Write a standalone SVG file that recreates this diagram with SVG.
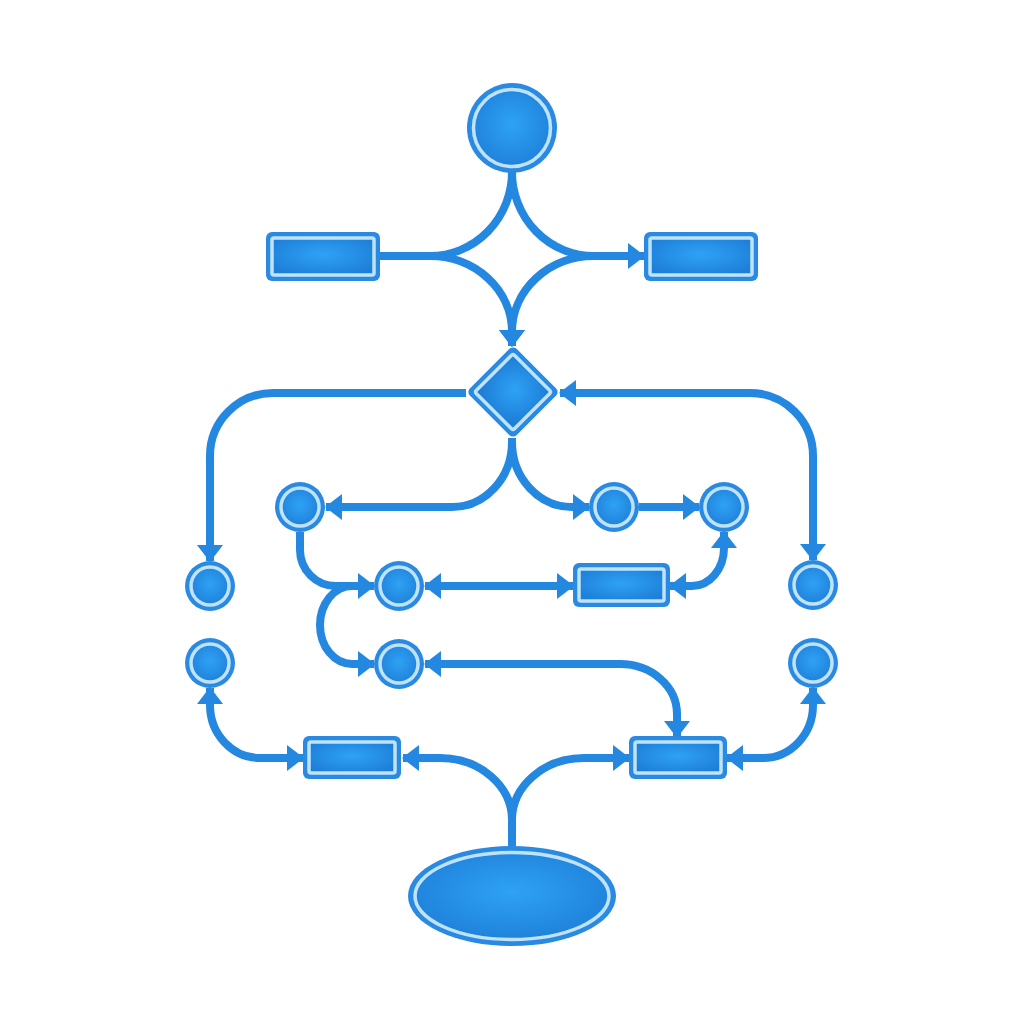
<svg xmlns="http://www.w3.org/2000/svg" width="1024" height="1024" viewBox="0 0 1024 1024">
<defs>
<radialGradient id="g" cx="50%" cy="45%" r="60%">
<stop offset="0" stop-color="#2ea2f5"/>
<stop offset="1" stop-color="#1e7fd8"/>
</radialGradient>
<marker id="ah" viewBox="0 0 17 26" refX="16" refY="13" markerWidth="17" markerHeight="26" markerUnits="userSpaceOnUse" orient="auto-start-reverse">
<path d="M0,0 L17,13 L0,26 z" fill="#2588e0"/>
</marker>
<style>
.o{fill:#2a8ae1}
.i{fill:url(#g);stroke:#bfe3fd;stroke-width:3.5}
.c{fill:none;stroke:#2588e0;stroke-width:8}
.e{marker-end:url(#ah)}
.s{marker-start:url(#ah)}
</style>
</defs>
<rect width="1024" height="1024" fill="#ffffff"/>
<g id="connectors">
<path class="c" d="M512,172 A82,84 0 0 1 430,256 L380,256"/>
<path class="c e" d="M512,172 A82,84 0 0 0 594,256 L644,256"/>
<path class="c e" d="M430,256 A82,76 0 0 1 512,332 L512,346"/>
<path class="c e" d="M594,256 A82,76 0 0 0 512,332 L512,346"/>
<path class="c e" d="M466,393 L273,393 A63,63 0 0 0 210,456 L210,561"/>
<path class="c s e" d="M560,393 L750,393 A63,63 0 0 1 813,456 L813,560"/>
<path class="c e" d="M512,438 L512,442 A60,65 0 0 1 452,507 L326,507"/>
<path class="c e" d="M512,438 L512,442 A60,65 0 0 0 572,507 L589,507"/>
<path class="c e" d="M639,507 L699,507"/>
<path class="c s e" d="M670,586 L692,586 A32,38 0 0 0 724,548 L724,532"/>
<path class="c s e" d="M425,586 L573,586"/>
<path class="c e" d="M300,532 L300,550 A36,36 0 0 0 336,586 L374,586"/>
<path class="c e" d="M352,586 A32,39 0 0 0 320,625 A32,39 0 0 0 352,664 L374,664"/>
<path class="c s e" d="M425,664 L620,664 A57,50 0 0 1 677,714 L677,737"/>
<path class="c e" d="M512,846 L512,820 A72,62 0 0 0 440,758 L403,758"/>
<path class="c e" d="M512,846 L512,820 A72,62 0 0 1 584,758 L629,758"/>
<path class="c s e" d="M210,688 L210,705 A50,53 0 0 0 260,758 L303,758"/>
<path class="c s e" d="M813,688 L813,705 A50,53 0 0 1 763,758 L727,758"/>
</g>
<g id="start"><circle class="o" cx="512" cy="128" r="45"/><circle class="i" cx="512" cy="128" r="38.5"/></g>
<g id="rect-top-left"><rect class="o" x="266" y="232" width="114" height="49" rx="6"/><rect class="i" x="272" y="238" width="102" height="37" rx="2"/></g>
<g id="rect-top-right"><rect class="o" x="644" y="232" width="114" height="49" rx="6"/><rect class="i" x="650" y="238" width="102" height="37" rx="2"/></g>
<g id="decision" transform="translate(513,392) rotate(45)"><rect class="o" x="-33" y="-33" width="66" height="66" rx="5"/><rect class="i" x="-27" y="-27" width="54" height="54" rx="2"/></g>
<g id="c-a"><circle class="o" cx="300" cy="507" r="25"/><circle class="i" cx="300" cy="507" r="19"/></g>
<g id="c-b"><circle class="o" cx="614" cy="507" r="25"/><circle class="i" cx="614" cy="507" r="19"/></g>
<g id="c-c"><circle class="o" cx="724" cy="507" r="25"/><circle class="i" cx="724" cy="507" r="19"/></g>
<g id="c-d"><circle class="o" cx="210" cy="586" r="25"/><circle class="i" cx="210" cy="586" r="19"/></g>
<g id="c-e"><circle class="o" cx="399" cy="586" r="25"/><circle class="i" cx="399" cy="586" r="19"/></g>
<g id="rect-f"><rect class="o" x="573" y="563" width="97" height="44" rx="6"/><rect class="i" x="579" y="569" width="85" height="32" rx="2"/></g>
<g id="c-l"><circle class="o" cx="813" cy="585" r="25"/><circle class="i" cx="813" cy="585" r="19"/></g>
<g id="c-h"><circle class="o" cx="210" cy="663" r="25"/><circle class="i" cx="210" cy="663" r="19"/></g>
<g id="c-g"><circle class="o" cx="399" cy="664" r="25"/><circle class="i" cx="399" cy="664" r="19"/></g>
<g id="c-k"><circle class="o" cx="813" cy="663" r="25"/><circle class="i" cx="813" cy="663" r="19"/></g>
<g id="rect-i"><rect class="o" x="303" y="736" width="98" height="43" rx="6"/><rect class="i" x="309" y="742" width="86" height="31" rx="2"/></g>
<g id="rect-j"><rect class="o" x="629" y="736" width="98" height="43" rx="6"/><rect class="i" x="635" y="742" width="86" height="31" rx="2"/></g>
<g id="end"><ellipse class="o" cx="512" cy="896" rx="104" ry="50"/><ellipse class="i" cx="512" cy="896" rx="97" ry="43.5"/></g>
</svg>
